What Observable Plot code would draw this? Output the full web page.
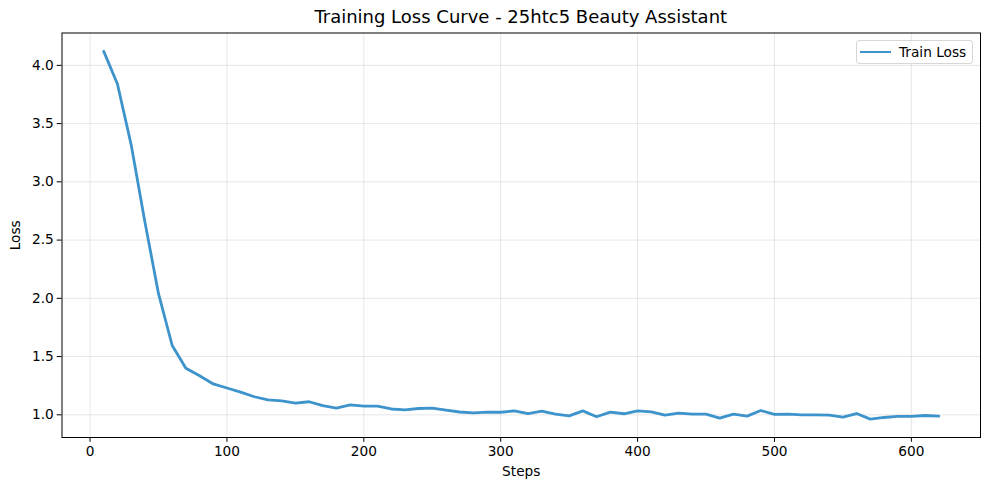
<!DOCTYPE html>
<html>
<head>
<meta charset="utf-8">
<script src="https://cdn.jsdelivr.net/npm/d3@7"></script>
<script src="https://cdn.jsdelivr.net/npm/@observablehq/plot@0.6"></script>
<style>
  body { margin: 0; background: #fff; }
  #wrap { position: relative; width: 989px; height: 490px; font-family: "DejaVu Sans", sans-serif; }
  #title { position: absolute; left: 61.5px; width: 918.5px; top: 6px; text-align: center; font-size: 18px; color: #000; line-height: 22px; }
  #legend { position: absolute; left: 856px; top: 39.5px; width: 117px; height: 24.5px; box-sizing: border-box;
            border: 1px solid #d6d6d6; border-radius: 3px; background: rgba(255,255,255,0.8); }
  #legend .swatch { position: absolute; left: 3px; top: 10.5px; width: 31px; height: 0; border-top: 2.8px solid #3d93cb; }
  #legend .lbl { position: absolute; left: 42px; top: 3px; font-size: 13.7px; line-height: 16px; color: #000; }
</style>
</head>
<body>
<div id="wrap">
  <div id="chart"></div>
  <div id="title">Training Loss Curve - 25htc5 Beauty Assistant</div>
  <div id="legend"><div class="swatch"></div><div class="lbl">Train Loss</div></div>
</div>
<script>
const steps = [10,20,30,40,50,60,70,80,90,100,110,120,130,140,150,160,170,180,190,200,
  210,220,230,240,250,260,270,280,290,300,310,320,330,340,350,360,370,380,390,400,
  410,420,430,440,450,460,470,480,490,500,510,520,530,540,550,560,570,580,590,600,610,620];
const trainLoss = [4.12,3.84,3.32,2.66,2.04,1.595,1.40,1.335,1.265,1.23,1.195,1.155,1.128,1.12,1.10,1.112,1.078,1.058,1.085,1.075,
  1.075,1.05,1.043,1.054,1.057,1.04,1.024,1.016,1.023,1.022,1.034,1.011,1.031,1.006,0.991,1.034,0.983,1.023,1.009,1.034,
  1.026,0.997,1.014,1.006,1.006,0.971,1.006,0.989,1.037,1.003,1.006,1.0,1.0,0.997,0.98,1.011,0.963,0.977,0.986,0.986,0.994,0.989];
const xTicks = [0,100,200,300,400,500,600];
const yTicks = [1.0,1.5,2.0,2.5,3.0,3.5,4.0];

const data = steps.map((s, i) => ({step: s, loss: trainLoss[i]}));
const lo = d3.min(trainLoss), hi = d3.max(trainLoss);
const xlo = d3.min(steps), xhi = d3.max(steps);
const ypad = (hi - lo) * 0.05, xpad = (xhi - xlo) * 0.05;

const chart = Plot.plot({
  width: 989,
  height: 490,
  marginLeft: 61.5,
  marginRight: 9,
  marginTop: 32.5,
  marginBottom: 53,
  style: { fontFamily: "DejaVu Sans, sans-serif", fontSize: "13.7px", color: "#000", background: "#fff", overflow: "visible" },
  x: { domain: [xlo - xpad, xhi + xpad] },
  y: { domain: [lo - ypad, hi + ypad] },
  marks: [
    Plot.gridX(xTicks, { stroke: "#b0b0b0", strokeOpacity: 0.3, strokeWidth: 1 }),
    Plot.gridY(yTicks, { stroke: "#b0b0b0", strokeOpacity: 0.3, strokeWidth: 1 }),
    Plot.axisX(xTicks, { tickSize: 4.8, tickPadding: 4, fontSize: 13.7, stroke: "#000", strokeWidth: 1,
      label: "Steps", labelAnchor: "center", labelArrow: "none", labelOffset: 38, tickFormat: d3.format("d") }),
    Plot.axisY(yTicks, { tickSize: 4.8, tickPadding: 3.5, fontSize: 13.7, stroke: "#000", strokeWidth: 1,
      label: "Loss", labelAnchor: "center", labelArrow: "none", labelOffset: 52, tickFormat: d3.format(".1f") }),
    Plot.frame({ stroke: "#000", strokeWidth: 1 }),
    Plot.line(data, { x: "step", y: "loss", stroke: "#3d93cb", strokeWidth: 2.8, strokeLinejoin: "round" })
  ]
});
document.getElementById("chart").appendChild(chart);
</script>
</body>
</html>
